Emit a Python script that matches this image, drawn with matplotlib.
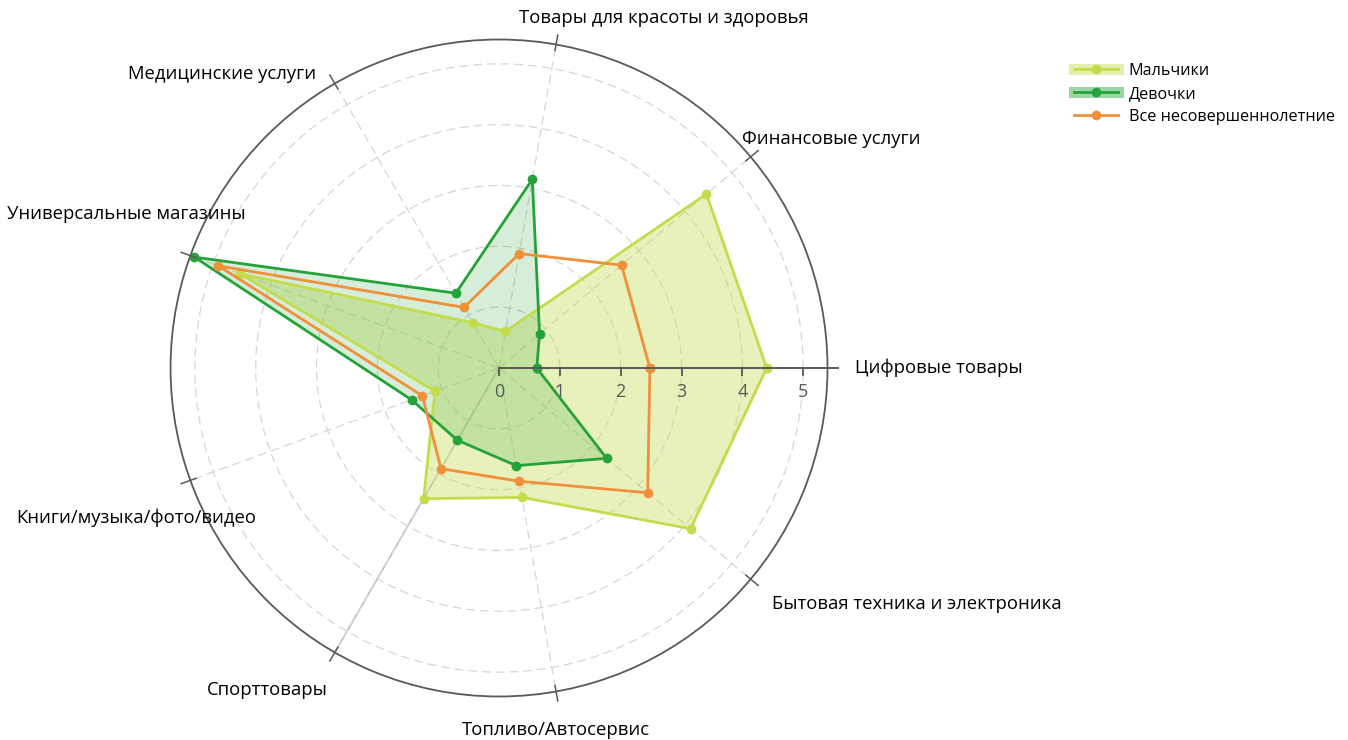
import numpy as np
import matplotlib
matplotlib.use("Agg")
import matplotlib.pyplot as plt
from matplotlib.lines import Line2D

plt.rcParams["font.family"] = ["Open Sans", "DejaVu Sans"]

categories = [
    "Цифровые товары",
    "Финансовые услуги",
    "Товары для красоты и здоровья",
    "Медицинские услуги",
    "Универсальные магазины",
    "Книги/музыка/фото/видео",
    "Спорттовары",
    "Топливо/Автосервис",
    "Бытовая техника и электроника",
]
boys = [4.40, 4.45, 0.61, 0.86, 4.53, 1.12, 2.48, 2.16, 4.11]
girls = [0.62, 0.87, 3.15, 1.42, 5.33, 1.53, 1.37, 1.63, 2.31]
minors = [2.48, 2.63, 1.91, 1.15, 4.91, 1.34, 1.91, 1.89, 3.19]
series_names = ["Мальчики", "Девочки", "Все несовершеннолетние"]
r_ticks = [0, 1, 2, 3, 4, 5]

BOYS_C = "#c3dc4c"
GIRLS_C = "#25a33a"
MINORS_C = "#f0903a"
AXIS_C = "#595959"

n = len(categories)
angles = np.deg2rad(np.arange(n) * 360.0 / n)
closed = np.append(angles, angles[0])


def close(v):
    return list(v) + [v[0]]


fig = plt.figure(figsize=(13.48, 7.40), dpi=100)
ax = fig.add_axes([0.1265, 0.0588, 0.4874, 0.8878], projection="polar")
ax.set_ylim(0, 5.4)
ax.set_xticks(angles)
ax.set_xticklabels([])
ax.set_yticks(r_ticks[1:])
ax.set_yticklabels([])
ax.grid(color="#d6d6d6", linestyle=(0, (7, 4)), linewidth=0.9)
ax.spines["polar"].set_color(AXIS_C)
ax.spines["polar"].set_linewidth(1.3)
ax.tick_params(length=0)

# solid spoke towards "Спорттовары"
ax.plot([angles[6], angles[6]], [0, 5.4], color="#bdbdbd", lw=1.2, zorder=1)

# fills
ax.fill(closed, close(boys), color=BOYS_C, alpha=0.38, lw=0, zorder=2)
ax.fill(closed, close(girls), color=GIRLS_C, alpha=0.19, lw=0, zorder=3)

# lines
ax.plot(closed, close(boys), color=BOYS_C, lw=2, marker="o", ms=6, zorder=4)
ax.plot(closed, close(girls), color=GIRLS_C, lw=2, marker="o", ms=6, zorder=5)
ax.plot(closed, close(minors), color=MINORS_C, lw=2, marker="o", ms=6, zorder=6)

# radial axis along 0 degrees
ax.plot([0, 0], [0, 5.58], color=AXIS_C, lw=1.4, clip_on=False, zorder=7)
ax.plot([0] * len(r_ticks), r_ticks, ls="none", marker=3, ms=6, mew=1.3,
        color=AXIS_C, clip_on=False, zorder=7)
for r in r_ticks:
    ax.annotate(str(r), (0, r), xytext=(0, -11), textcoords="offset points",
                ha="center", va="top", fontsize=13, color=AXIS_C, zorder=8)

# small ticks on the outer ring
for a in angles[1:]:
    ax.plot([a, a], [5.3, 5.56], color=AXIS_C, lw=1.1, clip_on=False, zorder=7)

# category labels
label_pos = [(0.0, 5.86, "left"), (34.6, 6.64, "center"), (64.7, 6.36, "center"),
             (133.3, 6.65, "center"), (157.5, 6.63, "center"), (202.4, 6.45, "center"),
             (234.2, 6.52, "center"), (278.9, 6.02, "center"), (330.5, 7.89, "center")]
for name, (deg, r, ha) in zip(categories, label_pos):
    ax.text(np.deg2rad(deg), r, name, ha=ha, va="center", fontsize=13.3,
            color="#000000", clip_on=False)

handles = [
    (Line2D([], [], color=BOYS_C, alpha=0.45, lw=8),
     Line2D([], [], color=BOYS_C, lw=2, marker="o", ms=6)),
    (Line2D([], [], color=GIRLS_C, alpha=0.45, lw=8),
     Line2D([], [], color=GIRLS_C, lw=2, marker="o", ms=6)),
    Line2D([], [], color=MINORS_C, lw=2, marker="o", ms=6),
]
fig.legend(handles, series_names, loc="upper left", bbox_to_anchor=(0.786, 0.935),
           frameon=False, fontsize=11.6, handlelength=2.7, handletextpad=0.7,
           labelspacing=0.45)

fig.savefig("out.png", dpi=100)
